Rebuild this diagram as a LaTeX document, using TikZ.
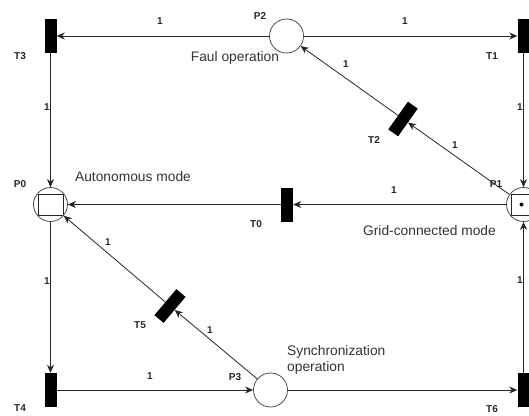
\documentclass[tikz,border=0pt]{standalone}
\usepackage{fontspec}
\setmainfont{Liberation Sans}
\usetikzlibrary{arrows.meta}
\begin{document}
\begin{tikzpicture}[x=1pt,y=-1pt,
  place/.style={circle,draw=black!70,line width=0.8pt,minimum size=34pt,inner sep=0pt},
  trans/.style={fill=black,draw=none,minimum width=12pt,minimum height=34pt,inner sep=0pt},
  arr/.style={draw=black!85,line width=0.8pt,-{Stealth[length=8pt,width=7pt,inset=2.5pt]}},
  lbl/.style={font=\fontsize{10}{12}\selectfont\bfseries,text=black!85,inner sep=0pt},
  txt/.style={font=\fontsize{13.8}{16.5}\selectfont,text=black!80,inner sep=0pt},
  boxed/.style={path picture={\draw[black!85,line width=0.8pt] ([xshift=-12.5pt,yshift=-10.5pt]path picture bounding box.center) rectangle ++(25pt,21pt);}}
]
\useasboundingbox (0,0) rectangle (529,415);
\clip (0,0) rectangle (529,415);

% places
\node[place,boxed] (P0) at (50.5,204.5) {};
\node[place,boxed] (P1) at (523.5,204.5) {};
\node[place] (P2) at (286.5,36) {};
\node[place] (P3) at (270.5,390) {};
\fill[black] (521.5,204.5) circle (2pt);

% transitions
\node[trans] (T3) at (50.5,36) {};
\node[trans] (T1) at (523.5,36) {};
\node[trans] (T0) at (287,204.5) {};
\node[trans] (T4) at (50.5,390) {};
\node[trans] (T6) at (523.5,390) {};
\node[trans,rotate=-35.3] (T2) at (403,119) {};
\node[trans,rotate=-40.2] (T5) at (170,306) {};

% arcs
\draw[arr] (P2) -- (T3);
\draw[arr] (P2) -- (T1);
\draw[arr] (T3) -- (P0);
\draw[arr] (T1) -- (P1);
\draw[arr] (P1) -- (T0);
\draw[arr] (T0) -- (P0);
\draw[arr] (P1) -- (T2);
\draw[arr] (T2) -- (P2);
\draw[arr] (P0) -- (T4);
\draw[arr] (T4) -- (P3);
\draw[arr] (P3) -- (T6);
\draw[arr] (T6) -- (P1);
\draw[arr] (P3) -- (T5);
\draw[arr] (T5) -- (P0);

% names
\node[lbl] (lT3) at (20,56) {T3};
\node[lbl] (lT1) at (492,56) {T1};
\node[lbl] (lT0) at (256,224) {T0};
\node[lbl] (lT2) at (374,140) {T2};
\node[lbl] (lT5) at (140,325) {T5};
\node[lbl] (lT4) at (20,408) {T4};
\node[lbl] (lT6) at (492,409) {T6};
\node[lbl] (lP0) at (20,184) {P0};
\node[lbl] (lP1) at (496,184) {P1};
\node[lbl] (lP2) at (260,16) {P2};
\node[lbl] (lP3) at (235,377) {P3};

% weights
\node[lbl] (w1) at (160,21) {1};
\node[lbl] (w2) at (405,21) {1};
\node[lbl] (w3) at (47,107) {1};
\node[lbl] (w4) at (520,107) {1};
\node[lbl] (w5) at (346,64) {1};
\node[lbl] (w6) at (455,145) {1};
\node[lbl] (w7) at (394,190) {1};
\node[lbl] (w8) at (108,242) {1};
\node[lbl] (w9) at (210,330) {1};
\node[lbl] (w10) at (47,281) {1};
\node[lbl] (w11) at (150,376) {1};
\node[lbl] (w12) at (520,280) {1};

% descriptions
\node[txt] (dP2) at (235,58) {Faul operation};
\node[txt] (dP0) at (133,177) {Autonomous mode};
\node[txt] (dP1) at (429.5,231) {Grid-connected mode};
\node[txt,anchor=west,align=left] (dP3) at (287,360) {Synchronization\\operation};
\end{tikzpicture}
\end{document}
